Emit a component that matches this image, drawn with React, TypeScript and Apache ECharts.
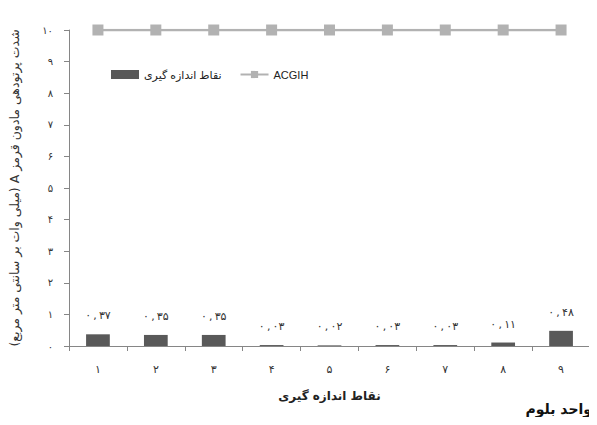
import React, { useEffect, useRef } from "react";
import * as echarts from "echarts";

const categories = ["1", "2", "3", "4", "5", "6", "7", "8", "9"];
const measured = [0.37, 0.35, 0.35, 0.03, 0.02, 0.03, 0.03, 0.11, 0.48];
const acgih = [10, 10, 10, 10, 10, 10, 10, 10, 10];
const yTicks = [0, 1, 2, 3, 4, 5, 6, 7, 8, 9, 10];

const barName = "نقاط اندازه گیری";
const lineName = "ACGIH";
const yName = "شدت پرتودهی مادون قرمز A (میلی وات بر سانتی متر مربع)";
const xName = "نقاط اندازه گیری";
const unitTitle = "واحد بلوم";

const fa = (s: string) => s.replace(/[0-9]/g, (d) => "۰۱۲۳۴۵۶۷۸۹"[+d]);
const rtl = (s: string) => "\u202B" + s + "\u202C";

const FONT = "'DejaVu Sans', 'Liberation Serif', serif";
const LATIN = "'Liberation Sans', 'DejaVu Sans', sans-serif";

export default function App() {
  const ref = useRef<HTMLDivElement>(null);
  useEffect(() => {
    const chart = echarts.init(ref.current!, null, { renderer: "svg" });
    chart.setOption({
      animation: false,
      textStyle: { fontFamily: FONT },
      grid: { left: 67, right: 7, top: 30, bottom: 79, containLabel: false },
      legend: {
        left: 106,
        top: 64,
        itemGap: 18,
        itemWidth: 28,
        itemHeight: 9,
        textStyle: { fontSize: 11, color: "#222", fontFamily: LATIN },
        data: [
          { name: barName, icon: "rect" },
          { name: lineName },
        ],
      },
      xAxis: {
        type: "category",
        data: categories,
        name: xName,
        nameLocation: "middle",
        nameGap: 44,
        nameTextStyle: { fontSize: 12, fontWeight: "bold", color: "#222", fontFamily: FONT },
        axisLine: { lineStyle: { color: "#868686" } },
        axisTick: { show: true, length: 5, alignWithLabel: false, lineStyle: { color: "#868686" } },
        axisLabel: { formatter: (v: string) => fa(v), fontSize: 11, color: "#333", margin: 18 },
      },
      yAxis: {
        type: "value",
        min: 0,
        max: 10,
        interval: 1,
        name: rtl(yName),
        nameLocation: "middle",
        nameRotate: 90,
        nameGap: 48,
        nameTextStyle: { fontSize: 12.5, color: "#333", fontFamily: FONT },
        splitLine: { show: false },
        axisLine: { show: true, lineStyle: { color: "#868686" } },
        axisTick: { show: true, length: 5, lineStyle: { color: "#868686" } },
        axisLabel: {
          formatter: (v: number) => (yTicks.includes(v) ? fa(String(v)) : ""),
          fontSize: 10,
          color: "#333",
          margin: 16,
        },
      },
      series: [
        {
          name: barName,
          type: "bar",
          data: measured,
          barWidth: "41%",
          itemStyle: { color: "#595959" },
          label: {
            show: true,
            position: "top",
            distance: 13,
            fontSize: 11,
            color: "#333",
            formatter: (p: any) => fa(p.value.toFixed(2).replace(".", "\u2009,\u2009")),
          },
        },
        {
          name: lineName,
          type: "line",
          data: acgih,
          symbol: "rect",
          symbolSize: 11,
          lineStyle: { color: "#b2b2b2", width: 2.5 },
          itemStyle: { color: "#b2b2b2" },
        },
      ],
      graphic: [
        {
          type: "text",
          right: 5,
          top: 402,
          style: { text: unitTitle, fontSize: 14, fontWeight: "bold", fill: "#111", fontFamily: FONT },
        },
      ],
    });
    return () => chart.dispose();
  }, []);
  return <div ref={ref} style={{ width: 597, height: 425, margin: -8 }} />;
}
